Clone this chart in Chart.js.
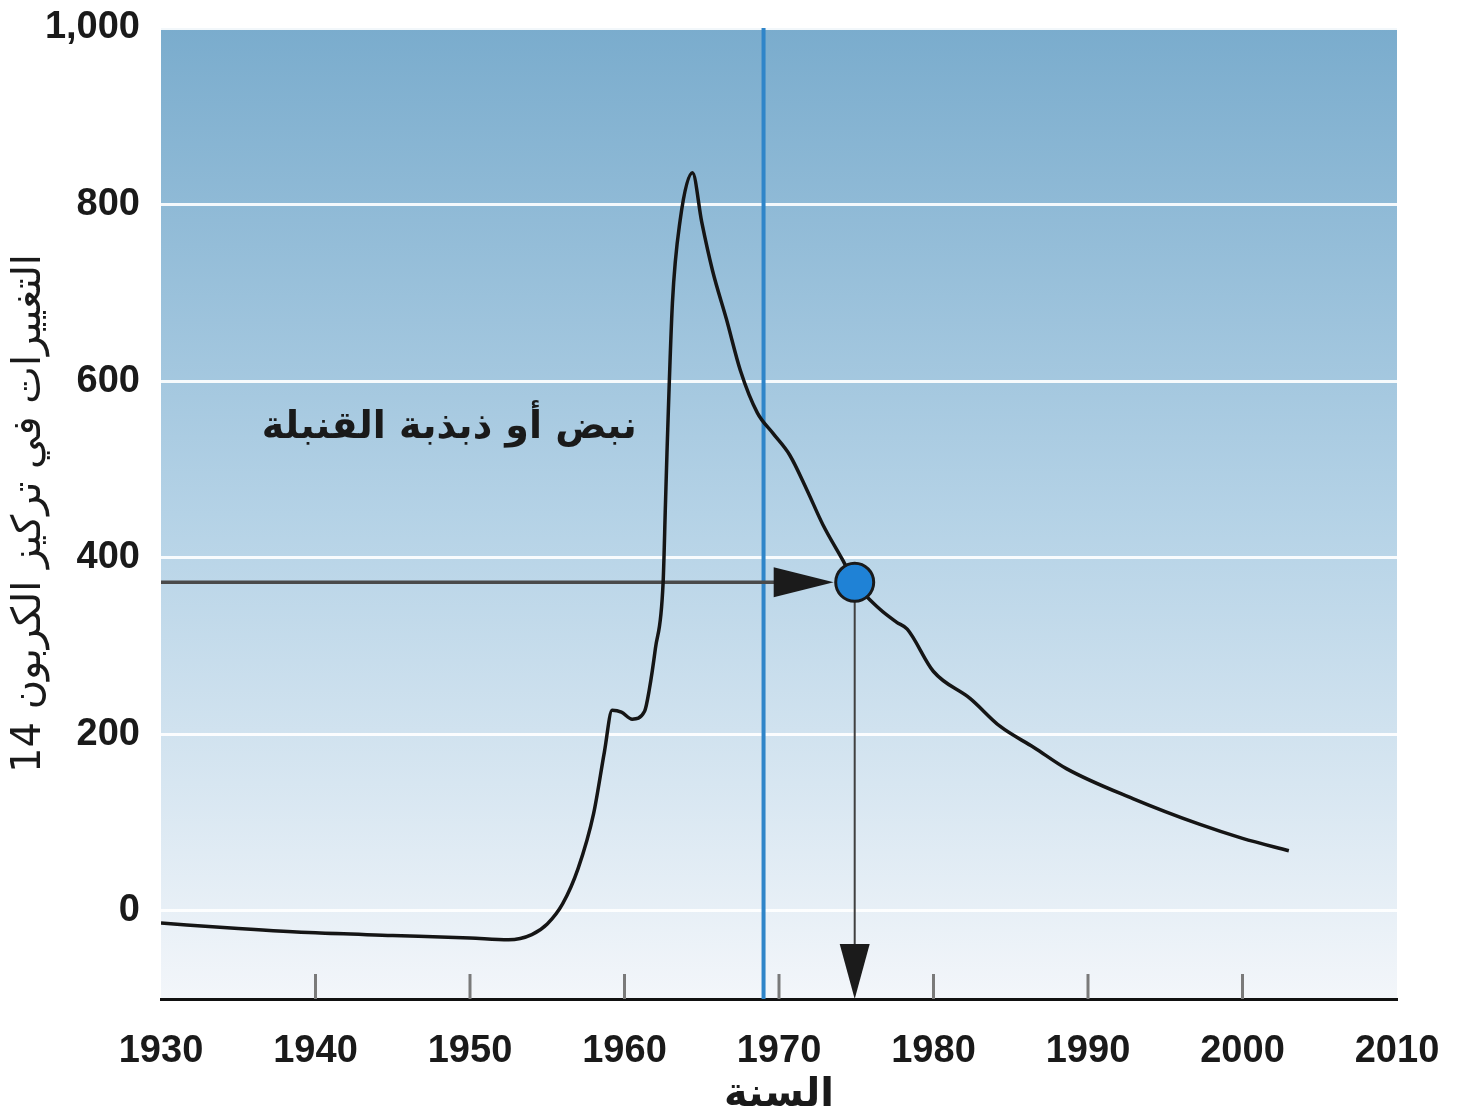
<!DOCTYPE html>
<html><head><meta charset="utf-8">
<script src="https://cdn.jsdelivr.net/npm/chart.js@4"></script>
<style>html,body{margin:0;padding:0;background:#fff}</style>
</head><body>
<canvas id="c" width="1460" height="1118"></canvas>
<script>
// ---- data ----
const years = [1930,1935,1940,1945,1950,1952.5,1954,1955,1956,1957,1958,1958.7,1959.2,1959.8,1960.5,1961.3,1961.6,1962.0,1962.5,1962.65,1962.75,1963.1,1963.6,1964.4,1965.0,1965.7,1966.6,1967.5,1968.6,1969.6,1970.7,1971.8,1972.85,1974.1,1974.9,1976.5,1977.6,1978.3,1980.0,1982.4,1984.3,1986.5,1988.6,1992.9,1997.2,2000,2003];
const c14Values = [-14,-20,-25,-28,-31,-33,-27,-15,8,48,110,180,227,225,217,226,250,297,372,460,519,688,782,836,780,725,670,612,564,541,516,477,437,398,372,342,327,319,271,240,209,185,161,127,98,82,68];
const xTickValues = [1930,1940,1950,1960,1970,1980,1990,2000,2010];
const yTickValues = [0,200,400,600,800,1000];
const bombLineYear = [1969];
const sampleYear = [1974.9];
const sampleValue = [372];
const annotationText = 'نبض أو ذبذبة القنبلة';
const annotationAnchor = [1960.8, 547];
const xTitle = 'السنة';
const yTitle = 'التغييرات في تركيز الكربون 14';

const FONT = "'Liberation Sans', Arial, sans-serif";
const AR_FONT = "'DejaVu Sans', 'Noto Sans', sans-serif";

const bgPlugin = {
  id: 'bg',
  beforeDraw(chart) {
    const {ctx, chartArea: a} = chart;
    const g = ctx.createLinearGradient(0, a.top, 0, a.bottom);
    g.addColorStop(0, 'rgb(122,172,205)');
    g.addColorStop(0.5, 'rgb(180,210,230)');
    g.addColorStop(1, 'rgb(243,246,250)');
    ctx.save();
    ctx.fillStyle = g;
    ctx.fillRect(a.left, a.top, a.right - a.left, a.bottom - a.top);
    ctx.restore();
  }
};

function tri(ctx, pts, color) {
  ctx.beginPath();
  ctx.moveTo(pts[0][0], pts[0][1]);
  ctx.lineTo(pts[1][0], pts[1][1]);
  ctx.lineTo(pts[2][0], pts[2][1]);
  ctx.closePath();
  ctx.fillStyle = color;
  ctx.fill();
}

const overlayPlugin = {
  id: 'overlay',
  beforeDatasetsDraw(chart) {
    const {ctx, chartArea: a, scales: {x, y}} = chart;
    ctx.save();
    ctx.strokeStyle = '#7a7a7a';
    ctx.lineWidth = 3;
    xTickValues.slice(1, -1).forEach(v => {
      const px = x.getPixelForValue(v);
      ctx.beginPath();
      ctx.moveTo(px, a.bottom - 25);
      ctx.lineTo(px, a.bottom);
      ctx.stroke();
    });
    const bx = x.getPixelForValue(bombLineYear[0]);
    ctx.strokeStyle = '#2f85c9';
    ctx.lineWidth = 4;
    ctx.beginPath();
    ctx.moveTo(bx, a.top);
    ctx.lineTo(bx, a.bottom);
    ctx.stroke();
    const px = x.getPixelForValue(sampleYear[0]);
    const py = y.getPixelForValue(sampleValue[0]);
    const tipX = px - 21;
    ctx.strokeStyle = '#4a4a4a';
    ctx.lineWidth = 3.5;
    ctx.beginPath();
    ctx.moveTo(a.left, py);
    ctx.lineTo(tipX - 55, py);
    ctx.stroke();
    tri(ctx, [[tipX, py], [tipX - 60, py - 15], [tipX - 60, py + 15]], '#1b1b1b');
    ctx.strokeStyle = '#404040';
    ctx.lineWidth = 2;
    ctx.beginPath();
    ctx.moveTo(px, py);
    ctx.lineTo(px, a.bottom - 50);
    ctx.stroke();
    tri(ctx, [[px, a.bottom], [px - 15, a.bottom - 55], [px + 15, a.bottom - 55]], '#1b1b1b');
    ctx.restore();
  },
  afterDatasetsDraw(chart) {
    const {ctx, scales: {x, y}} = chart;
    ctx.save();
    ctx.font = "bold 38px " + AR_FONT;
    ctx.fillStyle = '#1a1a1a';
    ctx.textAlign = 'right';
    ctx.textBaseline = 'middle';
    ctx.fillText(annotationText, x.getPixelForValue(annotationAnchor[0]), y.getPixelForValue(annotationAnchor[1]));
    ctx.restore();
  }
};

new Chart(document.getElementById('c'), {
  type: 'line',
  data: {
    datasets: [
      {
        data: sampleYear.map((v, i) => ({x: v, y: sampleValue[i]})),
        showLine: false,
        pointRadius: 19,
        pointBackgroundColor: '#1f82d6',
        pointBorderColor: '#1a1a1a',
        pointBorderWidth: 3,
        pointHoverRadius: 19
      },
      {
        data: years.map((v, i) => ({x: v, y: c14Values[i]})),
        borderColor: '#151515',
        borderWidth: 3.5,
        pointRadius: 0,
        cubicInterpolationMode: 'monotone',
        fill: false
      }
    ]
  },
  options: {
    responsive: false,
    devicePixelRatio: 1,
    animation: false,
    layout: {padding: {top: 28, right: 63, left: 0, bottom: 0}},
    plugins: {legend: {display: false}, tooltip: {enabled: false}},
    scales: {
      x: {
        type: 'linear',
        min: 1930, max: 2010,
        afterBuildTicks: s => { s.ticks = xTickValues.map(v => ({value: v})); },
        afterFit: s => { s.height = 119; s.paddingLeft = 0; s.paddingRight = 0; },
        grid: {display: false, drawTicks: false},
        border: {display: true, color: '#111', width: 3},
        ticks: {
          callback: v => String(v),
          font: {family: FONT, size: 38, weight: 'bold'},
          color: '#1a1a1a',
          padding: 30,
          maxRotation: 0
        },
        title: {
          display: true, text: xTitle,
          font: {family: AR_FONT, size: 40, weight: 'bold', lineHeight: 1.0},
          color: '#1a1a1a',
          padding: {top: 0, bottom: 2}
        }
      },
      y: {
        min: -100, max: 1000,
        afterBuildTicks: s => { s.ticks = yTickValues.map(v => ({value: v})); },
        afterFit: s => { s.width = 161; s.paddingTop = 0; s.paddingBottom = 0; },
        grid: {color: 'rgba(255,255,255,0.9)', lineWidth: 3, drawTicks: false},
        border: {display: false},
        ticks: {
          callback: v => v.toLocaleString('en-US'),
          font: {family: FONT, size: 38, weight: 'bold'},
          color: '#1a1a1a',
          padding: 21
        },
        title: {
          display: true, text: yTitle,
          font: {family: AR_FONT, size: 40, lineHeight: 1.0},
          color: '#1a1a1a',
          padding: {top: 10, bottom: 0}
        }
      }
    }
  },
  plugins: [bgPlugin, overlayPlugin]
});
</script>
</body></html>
